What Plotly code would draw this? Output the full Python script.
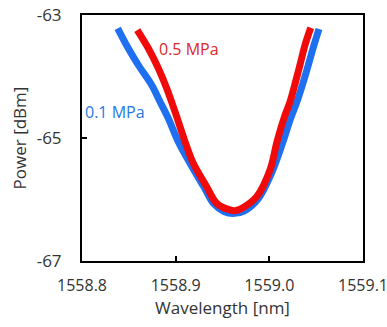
import plotly.graph_objects as go

# 0.1 MPa spectrum
wl_01 = [1558.8381, 1558.8494, 1558.8601, 1558.8744, 1558.8833, 1558.8921, 1558.9028,
         1558.9153, 1558.9302, 1558.9409, 1558.9516, 1558.9612, 1558.9729, 1558.9879,
         1559.0028, 1559.0146, 1559.0221, 1559.0295, 1559.0359, 1559.0416, 1559.0477, 1559.0530]
pw_01 = [-63.216, -63.541, -63.813, -64.138, -64.410, -64.680, -65.060,
         -65.411, -65.797, -66.073, -66.195, -66.228, -66.187, -65.992,
         -65.553, -65.060, -64.707, -64.410, -64.106, -63.813, -63.488, -63.228]

# 0.5 MPa spectrum
wl_05 = [1558.8590, 1558.8708, 1558.8815, 1558.8904, 1558.8993, 1558.9100, 1558.9188,
         1558.9331, 1558.9438, 1558.9580, 1558.9644, 1558.9722, 1558.9865, 1559.0007,
         1559.0082, 1559.0157, 1559.0221, 1559.0285, 1559.0327, 1559.0381, 1559.0442]
pw_05 = [-63.244, -63.541, -63.867, -64.192, -64.572, -65.060, -65.411,
         -65.792, -66.062, -66.170, -66.180, -66.130, -65.954, -65.520,
         -65.060, -64.675, -64.410, -64.057, -63.813, -63.488, -63.207]

x_ticks = [1558.8, 1558.9, 1559.0, 1559.1]
x_labels = ["1558.8", "1558.9", "1559.0", "1559.1"]
y_ticks = [-67, -65, -63]
y_labels = ["-67", "-65", "-63"]

BLUE = "rgb(30,112,240)"
RED = "rgb(240,10,10)"
FONT = "Open Sans"
FS = 17

fig = go.Figure()
fig.add_trace(go.Scatter(x=wl_01, y=pw_01, mode="lines", line=dict(color=BLUE, width=7, shape="spline"),
                         name="0.1 MPa", showlegend=False))
fig.add_trace(go.Scatter(x=wl_05, y=pw_05, mode="lines", line=dict(color=RED, width=7, shape="spline"),
                         name="0.5 MPa", showlegend=False))

fig.add_annotation(x=1558.8805, y=-63.55, text="0.5 MPa", showarrow=False, xanchor="left",
                   font=dict(color="rgb(220,40,40)", size=FS - 1, family=FONT))
fig.add_annotation(x=1558.801, y=-64.57, text="0.1 MPa", showarrow=False, xanchor="left",
                   font=dict(color="rgb(40,120,230)", size=FS - 1, family=FONT))

axis_common = dict(showgrid=False, zeroline=False, showline=True, linecolor="black", linewidth=2,
                   mirror=True, ticks="inside", ticklen=5, tickwidth=2, tickcolor="black",
                   automargin=False, ticklabeloverflow="allow")
fig.update_xaxes(range=[1558.8, 1559.1], tickvals=x_ticks, ticktext=x_labels,
                 tickfont=dict(size=FS - 1, family=FONT, color="#333"),
                 title=dict(text="Wavelength [nm]", font=dict(size=FS, family=FONT, color="#333"), standoff=2),
                 ticklabelstandoff=9, **axis_common)
fig.update_yaxes(range=[-67, -63], tickvals=y_ticks, ticktext=y_labels,
                 tickfont=dict(size=FS, family=FONT, color="#333"),
                 title=dict(text="Power [dBm]", font=dict(size=FS, family=FONT, color="#333"), standoff=6),
                 ticklabelstandoff=15, **axis_common)
fig.update_layout(width=387, height=327, margin=dict(l=82, r=24, t=15, b=66),
                  plot_bgcolor="white", paper_bgcolor="white")
fig.write_html("out.html", config={"displayModeBar": False},
               post_script="document.body.style.margin='0';document.body.style.overflow='hidden';")
